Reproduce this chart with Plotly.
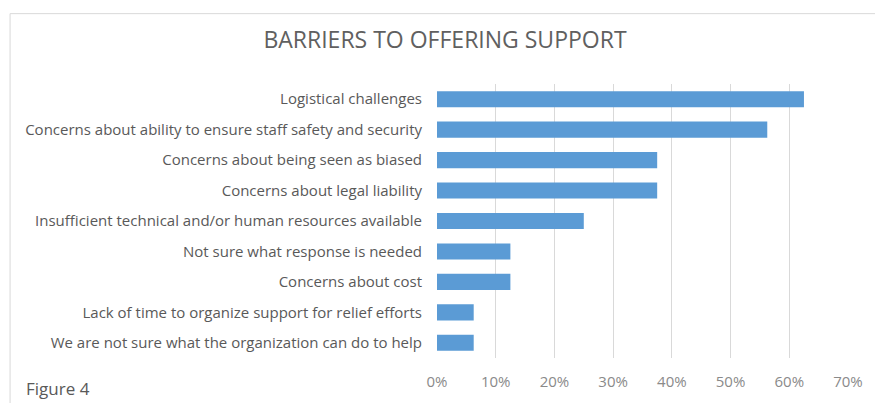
import plotly.graph_objects as go

categories = [
    "Logistical challenges",
    "Concerns about ability to ensure staff safety and security",
    "Concerns about being seen as biased",
    "Concerns about legal liability",
    "Insufficient technical and/or human resources available",
    "Not sure what response is needed",
    "Concerns about cost",
    "Lack of time to organize support for relief efforts",
    "We are not sure what the organization can do to help",
]
values = [0.625, 0.5625, 0.375, 0.375, 0.25, 0.125, 0.125, 0.0625, 0.0625]
tick_vals = [0, 0.1, 0.2, 0.3, 0.4, 0.5, 0.6, 0.7]
tick_text = ["0%", "10%", "20%", "30%", "40%", "50%", "60%", "70%"]
title_text = "BARRIERS TO OFFERING SUPPORT"
caption = "Figure 4"

W, H = 875, 403
L, R = 437, 850
T, B = 84, 362.5
pw, ph = R - L, B - T

def px_x(p):
    return (p - L) / pw

def px_y(p):
    return (B - p) / ph

FONT = "Open Sans"
GRAY = "#595959"

fig = go.Figure(go.Bar(
    x=values, y=categories, orientation="h",
    marker=dict(color="#5b9bd5", line=dict(width=0)),
    hoverinfo="x+y",
))

fig.update_layout(
    width=W, height=H,
    margin=dict(l=L, r=W - R, t=T, b=H - B, pad=0),
    paper_bgcolor="white", plot_bgcolor="white",
    bargap=0.47,
    showlegend=False,
    font=dict(family=FONT, color=GRAY, size=15),
    title=dict(text=title_text, x=445 / W, xanchor="center", y=1 - 40 / H, yanchor="middle",
               font=dict(family=FONT, size=23, color="#606060")),
    xaxis=dict(range=[0, 0.7], tickvals=tick_vals, ticktext=tick_text,
               showgrid=True, gridcolor="#d9d9d9", gridwidth=1,
               zeroline=False, showline=False, ticks="", ticklabelstandoff=13,
               tickfont=dict(family=FONT, size=15, color="#8a8a8a"), fixedrange=True),
    yaxis=dict(autorange="reversed", showgrid=False, zeroline=False, showline=False,
               ticks="", ticklabelstandoff=14,
               tickfont=dict(family=FONT, size=15, color=GRAY), fixedrange=True),
    shapes=[
        dict(type="rect", xref="paper", yref="paper",
             x0=px_x(8), x1=px_x(890), y0=px_y(420), y1=px_y(12.5),
             line=dict(color="#d9d9d9", width=1), fillcolor="rgba(0,0,0,0)", layer="below"),
    ],
    annotations=[
        dict(text=caption, xref="paper", yref="paper", x=px_x(22), y=px_y(393),
             xanchor="left", yanchor="middle", showarrow=False,
             font=dict(family=FONT, size=17, color=GRAY)),
    ],
)

fig.write_html("out.html", config={"displayModeBar": False})
